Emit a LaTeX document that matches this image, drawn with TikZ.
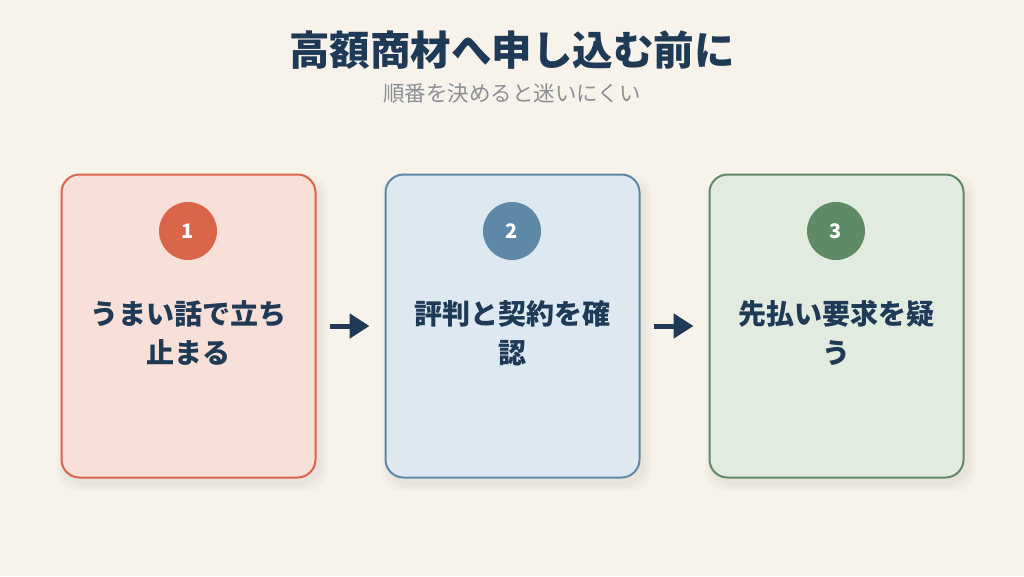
\documentclass[tikz,border=0pt]{standalone}
\usepackage{fontspec}
\setmainfont{Noto Sans CJK JP}
\usetikzlibrary{arrows.meta}
\definecolor{bgcol}{HTML}{F7F3EA}
\definecolor{ink}{HTML}{1E3A56}
\definecolor{subgray}{HTML}{8A8F95}
\definecolor{redfill}{HTML}{F8E0D8}
\definecolor{redline}{HTML}{D9654B}
\definecolor{bluefill}{HTML}{DDE8F0}
\definecolor{blueline}{HTML}{5D88A8}
\definecolor{greenfill}{HTML}{E2EBE0}
\definecolor{greenline}{HTML}{5E8A65}
\tikzset{
  card/.style = {rounded corners = 18pt, line width = 2pt, minimum width = 254pt,
    minimum height = 303pt, inner sep = 0},
  badge/.style = {circle, inner sep = 0, minimum size = 58pt, text = white,
    font = \fontsize{20}{20}\selectfont\bfseries},
  step text/.style = {text = ink, align = center,
    font = \fontsize{28}{39}\selectfont\bfseries},
  flow/.style = {draw = ink, line width = 5pt, -{Triangle[length = 20pt, width = 24pt]},
    shorten < = 13pt, shorten > = 15pt}
}
\begin{document}
\begin{tikzpicture}[x = 1pt, y = -1pt]
\fill[bgcol] (0, 0) rectangle (1024, 576);
\useasboundingbox (0, 0) rectangle (1024, 576);

\node [text = ink, font = \fontsize{40.5}{40.5}\selectfont\bfseries] (title) at (512, 50) {高額商材へ申し込む前に};
\node [text = subgray, font = \fontsize{21.5}{21.5}\selectfont] (sub) at (512, 93) {順番を決めると迷いにくい};

% shadows
\foreach \x in {188.5, 512.5, 836.5}
  \foreach \s in {2, 5, 8}
    \fill[black, opacity = .018, rounded corners = 20pt] (\x - 127 - \s + 4, 326 - 151 - \s + 8) rectangle (\x + 127 + \s + 4, 326 + 151 + \s + 6);

\node [card, draw = redline, fill = redfill] (c1) at (188.5, 326) {};
\node [card, draw = blueline, fill = bluefill] (c2) at (512.5, 326) {};
\node [card, draw = greenline, fill = greenfill] (c3) at (836.5, 326) {};

\node [badge, fill = redline] (n1) at (188, 231) {1};
\node [badge, fill = blueline] (n2) at (512, 231) {2};
\node [badge, fill = greenline] (n3) at (836, 231) {3};

\node [step text] (t1) at (188, 333) {うまい話で立ち\\止まる};
\node [step text] (t2) at (512, 333) {評判と契約を確\\認};
\node [step text] (t3) at (836, 333) {先払い要求を疑\\う};

\draw [flow] (c1.east) -- (c2.west);
\draw [flow] (c2.east) -- (c3.west);
\end{tikzpicture}
\end{document}
